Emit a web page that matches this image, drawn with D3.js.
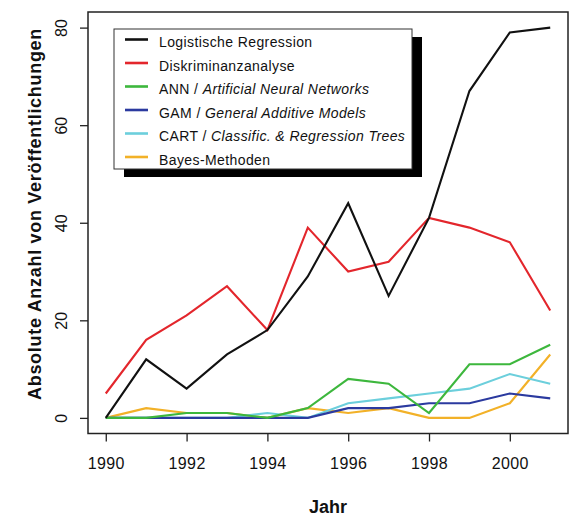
<!DOCTYPE html>
<html>
<head>
<meta charset="utf-8">
<script src="https://cdn.jsdelivr.net/npm/d3@7"></script>
<style>
  html, body { margin: 0; padding: 0; background: #fff; }
  svg { display: block; }
  text { font-family: "Liberation Sans", Arial, sans-serif; fill: #111; }
</style>
</head>
<body>
<svg id="chart" width="569" height="518"></svg>
<script>
// Publications per year by method
const years = [1990, 1991, 1992, 1993, 1994, 1995, 1996, 1997, 1998, 1999, 2000, 2001];
const logistic = [0, 12, 6, 13, 18, 29, 44, 25, 41, 67, 79, 80];
const discriminant = [5, 16, 21, 27, 18, 39, 30, 32, 41, 39, 36, 22];
const ann = [0, 0, 1, 1, 0, 2, 8, 7, 1, 11, 11, 15];
const gam = [0, 0, 0, 0, 0, 0, 2, 2, 3, 3, 5, 4];
const cart = [0, 0, 0, 0, 1, 0, 3, 4, 5, 6, 9, 7];
const bayes = [0, 2, 1, 1, 0, 2, 1, 2, 0, 0, 3, 13];

const xTicks = [1990, 1992, 1994, 1996, 1998, 2000];
const yTicks = [0, 20, 40, 60, 80];

const seriesNames = [
  ["Logistische Regression", ""],
  ["Diskriminanzanalyse", ""],
  ["ANN / ", "Artificial Neural Networks"],
  ["GAM / ", "General Additive Models"],
  ["CART / ", "Classific. & Regression Trees"],
  ["Bayes-Methoden", ""]
];
const seriesValues = [logistic, discriminant, ann, gam, cart, bayes];
const seriesColors = ["#111111", "#e3262c", "#3db73d", "#2b3a9f", "#6ccfdc", "#f2b128"];

const svg = d3.select("#chart");
const frame = { left: 88, right: 568, top: 12, bottom: 433.5 };

// 4% padding on each side of the data range
const xPad = (years[years.length - 1] - years[0]) * 0.04;
const x = d3.scaleLinear()
  .domain([years[0] - xPad, years[years.length - 1] + xPad])
  .range([frame.left, frame.right]);
const y = d3.scaleLinear()
  .domain([-3.2, 83.2])
  .range([frame.bottom, frame.top]);

// Lines (drawn first, frame and legend on top)
const line = d3.line()
  .x((d, i) => x(years[i]))
  .y(d => y(d));

const order = [5, 4, 3, 2, 1, 0];
svg.append("g")
  .selectAll("path")
  .data(order)
  .join("path")
  .attr("d", k => line(seriesValues[k]))
  .attr("fill", "none")
  .attr("stroke", k => seriesColors[k])
  .attr("stroke-width", 2.1)
  .attr("stroke-linejoin", "miter");

// Plot frame
svg.append("rect")
  .attr("x", frame.left)
  .attr("y", frame.top)
  .attr("width", frame.right - frame.left)
  .attr("height", frame.bottom - frame.top)
  .attr("fill", "none")
  .attr("stroke", "#222")
  .attr("stroke-width", 1.5);

// X axis
const xAxis = svg.append("g")
  .attr("transform", `translate(0,${frame.bottom})`)
  .call(d3.axisBottom(x).tickValues(xTicks).tickFormat(d3.format("d")).tickSize(8).tickPadding(16));
xAxis.select(".domain").remove();
xAxis.selectAll(".tick line").attr("stroke", "#222").attr("stroke-width", 1.3);
xAxis.selectAll(".tick text")
  .attr("font-size", 16)
  .attr("font-family", "'Liberation Sans', Arial, sans-serif")
  .attr("letter-spacing", 0.4)
  .attr("fill", "#111");

// Y axis with labels parallel to the axis
const yAxis = svg.append("g")
  .attr("transform", `translate(${frame.left},0)`)
  .call(d3.axisLeft(y).tickValues(yTicks).tickSize(8));
yAxis.select(".domain").remove();
yAxis.selectAll(".tick line").attr("stroke", "#222").attr("stroke-width", 1.3);
yAxis.selectAll(".tick text")
  .attr("transform", "rotate(-90)")
  .attr("x", 0)
  .attr("y", -21)
  .attr("dy", 0)
  .attr("text-anchor", "middle")
  .attr("font-size", 16)
  .attr("font-family", "'Liberation Sans', Arial, sans-serif")
  .attr("fill", "#111");

// Axis titles
svg.append("text")
  .attr("x", (frame.left + frame.right) / 2)
  .attr("y", 513)
  .attr("text-anchor", "middle")
  .attr("font-size", 18)
  .attr("font-weight", "bold")
  .text("Jahr");

// Y title: spread letters so the title spans a fixed length
const yTitleText = "Absolute Anzahl von Veröffentlichungen";
const yTitle = svg.append("text")
  .attr("transform", "translate(41,214) rotate(-90)")
  .attr("text-anchor", "middle")
  .attr("font-size", 18)
  .attr("font-weight", "bold")
  .text(yTitleText);
const natural = yTitle.node().getComputedTextLength();
yTitle.attr("letter-spacing", Math.max(0, (372 - natural) / yTitleText.length));

// Legend with drop shadow
const legend = { x: 114, y: 29, w: 298, h: 140, shadow: 10 };
svg.append("rect")
  .attr("x", legend.x + legend.shadow)
  .attr("y", legend.y + legend.shadow - 2)
  .attr("width", legend.w)
  .attr("height", legend.h)
  .attr("fill", "#000");
svg.append("rect")
  .attr("x", legend.x)
  .attr("y", legend.y)
  .attr("width", legend.w)
  .attr("height", legend.h)
  .attr("fill", "#fff")
  .attr("stroke", "#333")
  .attr("stroke-width", 1);

const rows = svg.append("g")
  .selectAll("g")
  .data(seriesNames.map((n, i) => ({ n, i })))
  .join("g")
  .attr("transform", d => `translate(0,${39.5 + d.i * 23.5})`);

rows.append("line")
  .attr("x1", 125).attr("x2", 148)
  .attr("y1", 0).attr("y2", 0)
  .attr("stroke", d => seriesColors[d.i])
  .attr("stroke-width", 2.6);

const labels = rows.append("text")
  .attr("x", 159)
  .attr("y", 7.5)
  .attr("font-size", 14)
  .attr("letter-spacing", 0.4);
labels.append("tspan").text(d => d.n[0]);
labels.append("tspan").attr("font-style", "italic").text(d => d.n[1]);
</script>
</body>
</html>
